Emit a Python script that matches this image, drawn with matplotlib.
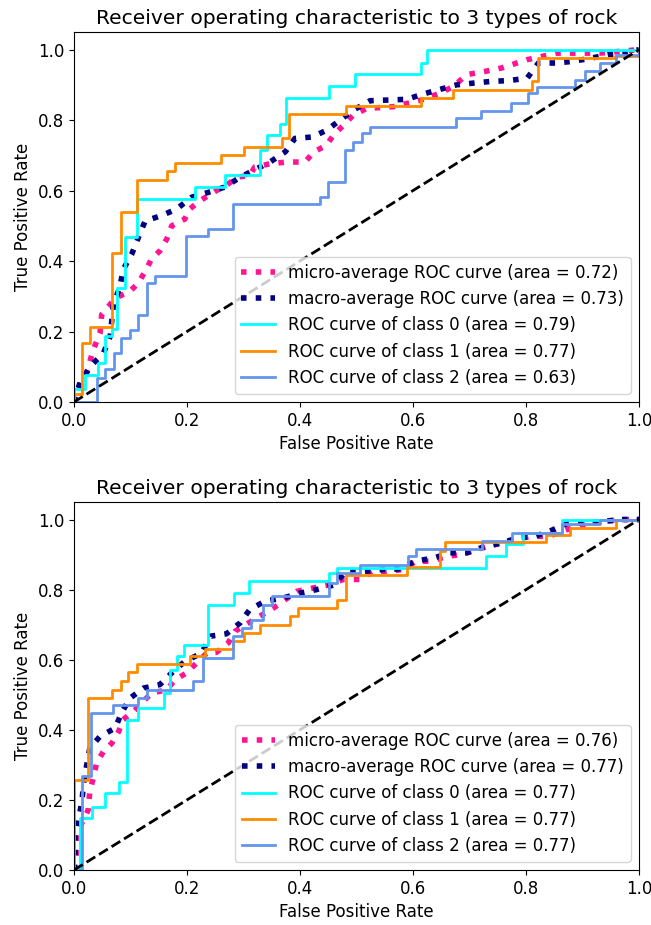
import matplotlib
matplotlib.use("Agg")
import matplotlib.pyplot as plt

title = "Receiver operating characteristic to 3 types of rock"
class_colors = ["aqua", "darkorange", "cornflowerblue"]

# ---------------- top chart data ----------------
top_micro_fpr = [0.0, 0.002, 0.022, 0.034, 0.046, 0.049, 0.061, 0.073, 0.099, 0.114, 0.126, 0.137, 0.152,
                 0.164, 0.173, 0.196, 0.205, 0.223, 0.252, 0.270, 0.288, 0.311, 0.320, 0.347, 0.376, 0.409,
                 0.424, 0.447, 0.459, 0.483, 0.494, 0.518, 0.565, 0.615, 0.647, 0.671, 0.695, 0.727, 0.757,
                 0.801, 0.854, 0.930, 1.0]
top_micro_tpr = [0.0, 0.019, 0.081, 0.148, 0.195, 0.248, 0.271, 0.295, 0.314, 0.338, 0.371, 0.405, 0.429,
                 0.462, 0.500, 0.519, 0.548, 0.571, 0.600, 0.615, 0.638, 0.643, 0.667, 0.676, 0.681, 0.681,
                 0.709, 0.729, 0.757, 0.795, 0.814, 0.833, 0.838, 0.857, 0.876, 0.895, 0.929, 0.938, 0.948,
                 0.971, 0.990, 0.990, 1.0]
top_macro_fpr = [0.0, 0.011, 0.031, 0.052, 0.064, 0.070, 0.081, 0.087, 0.102, 0.114, 0.126, 0.155, 0.182,
                 0.208, 0.238, 0.267, 0.294, 0.320, 0.347, 0.374, 0.391, 0.421, 0.447, 0.471, 0.495, 0.524,
                 0.557, 0.589, 0.618, 0.645, 0.677, 0.707, 0.740, 0.769, 0.802, 0.822, 0.854, 0.884, 0.916,
                 0.946, 0.975, 1.0]
top_macro_tpr = [0.0, 0.057, 0.105, 0.138, 0.186, 0.281, 0.324, 0.376, 0.419, 0.467, 0.514, 0.529, 0.548,
                 0.581, 0.595, 0.610, 0.638, 0.659, 0.681, 0.710, 0.748, 0.752, 0.771, 0.800, 0.829, 0.855,
                 0.857, 0.859, 0.874, 0.886, 0.900, 0.905, 0.910, 0.912, 0.919, 0.962, 0.962, 0.967, 0.976,
                 0.986, 0.990, 1.0]
top_c0_fpr = [0.0, 0.0, 0.0195, 0.043, 0.055, 0.068, 0.0755, 0.090, 0.112, 0.214, 0.268, 0.329, 0.341,
              0.365, 0.375, 0.452, 0.497, 0.615, 0.624, 1.0]
top_c0_tpr = [0.0, 0.038, 0.076, 0.110, 0.186, 0.208, 0.324, 0.467, 0.576, 0.611, 0.645, 0.714, 0.757,
              0.790, 0.862, 0.897, 0.931, 0.962, 1.0, 1.0]
top_c1_fpr = [0.0, 0.0, 0.014, 0.028, 0.068, 0.083, 0.111, 0.165, 0.179, 0.260, 0.301, 0.369, 0.381,
              0.481, 0.615, 0.671, 0.810, 0.822, 0.957, 1.0]
top_c1_tpr = [0.0, 0.024, 0.167, 0.214, 0.424, 0.538, 0.630, 0.655, 0.678, 0.702, 0.724, 0.748, 0.816,
              0.840, 0.864, 0.886, 0.910, 0.976, 0.981, 1.0]
top_c2_fpr = [0.0, 0.041, 0.055, 0.070, 0.084, 0.099, 0.114, 0.129, 0.143, 0.198, 0.238, 0.281, 0.435,
              0.450, 0.480, 0.494, 0.509, 0.524, 0.676, 0.721, 0.774, 0.804, 0.819, 0.887, 0.904, 0.931,
              0.960, 1.0]
top_c2_tpr = [0.0, 0.067, 0.095, 0.138, 0.181, 0.205, 0.248, 0.338, 0.357, 0.471, 0.490, 0.562, 0.581,
              0.624, 0.714, 0.738, 0.762, 0.781, 0.805, 0.826, 0.848, 0.876, 0.895, 0.914, 0.938, 0.962,
              0.986, 1.0]
top_areas = [0.72, 0.73, 0.79, 0.77, 0.63]   # micro, macro, class 0, class 1, class 2

# ---------------- bottom chart data ----------------
bot_micro_fpr = [0.0, 0.002, 0.005, 0.008, 0.025, 0.028, 0.034, 0.040, 0.052, 0.067, 0.079, 0.087, 0.105,
                 0.120, 0.137, 0.164, 0.179, 0.199, 0.214, 0.235, 0.252, 0.273, 0.285, 0.323, 0.344, 0.362,
                 0.394, 0.424, 0.447, 0.477, 0.506, 0.530, 0.553, 0.580, 0.606, 0.633, 0.660, 0.686, 0.733,
                 0.757, 0.780, 0.810, 0.840, 0.872, 0.893, 0.919, 0.943, 0.973, 1.0]
bot_micro_tpr = [0.0, 0.010, 0.052, 0.114, 0.171, 0.224, 0.262, 0.305, 0.338, 0.362, 0.395, 0.429, 0.452,
                 0.476, 0.505, 0.514, 0.543, 0.562, 0.586, 0.619, 0.621, 0.648, 0.681, 0.719, 0.738, 0.757,
                 0.795, 0.805, 0.812, 0.829, 0.829, 0.852, 0.852, 0.857, 0.881, 0.881, 0.895, 0.900, 0.924,
                 0.933, 0.943, 0.952, 0.952, 0.971, 0.981, 0.990, 0.996, 1.0, 1.0]
bot_macro_fpr = [0.0, 0.002, 0.002, 0.014, 0.017, 0.022, 0.028, 0.046, 0.073, 0.084, 0.099, 0.123, 0.152,
                 0.176, 0.196, 0.226, 0.241, 0.270, 0.294, 0.311, 0.338, 0.370, 0.400, 0.429, 0.462, 0.480,
                 0.512, 0.545, 0.575, 0.604, 0.636, 0.666, 0.695, 0.725, 0.757, 0.786, 0.816, 0.845, 0.875,
                 0.907, 0.939, 0.969, 1.0]
bot_macro_tpr = [0.0, 0.038, 0.095, 0.195, 0.248, 0.295, 0.348, 0.381, 0.405, 0.448, 0.490, 0.519, 0.529,
                 0.567, 0.595, 0.619, 0.667, 0.674, 0.705, 0.743, 0.767, 0.776, 0.790, 0.800, 0.814, 0.852,
                 0.852, 0.857, 0.859, 0.881, 0.890, 0.905, 0.905, 0.922, 0.933, 0.948, 0.952, 0.969, 0.990,
                 0.990, 0.995, 1.0, 1.0]
bot_c0_fpr = [0.0, 0.0106, 0.0313, 0.0549, 0.0802, 0.0932, 0.114, 0.159, 0.170, 0.182, 0.194, 0.238, 0.283,
              0.310, 0.452, 0.465, 0.730, 0.765, 0.794, 0.863, 1.0]
bot_c0_tpr = [0.0, 0.148, 0.181, 0.219, 0.252, 0.429, 0.462, 0.505, 0.571, 0.610, 0.643, 0.757, 0.790,
              0.824, 0.848, 0.862, 0.897, 0.929, 0.962, 1.0, 1.0]
bot_c1_fpr = [0.0, 0.0, 0.025, 0.068, 0.083, 0.096, 0.111, 0.205, 0.232, 0.282, 0.300, 0.329, 0.382, 0.397,
              0.465, 0.481, 0.589, 0.647, 0.656, 0.836, 0.878, 0.960, 1.0]
bot_c1_tpr = [0.0, 0.257, 0.490, 0.514, 0.538, 0.564, 0.589, 0.610, 0.630, 0.652, 0.676, 0.700, 0.724,
              0.748, 0.771, 0.843, 0.864, 0.910, 0.935, 0.957, 0.976, 1.0, 1.0]
bot_c2_fpr = [0.0, 0.0136, 0.0295, 0.0696, 0.114, 0.129, 0.211, 0.229, 0.281, 0.297, 0.313, 0.334, 0.350,
              0.452, 0.465, 0.506, 0.592, 0.606, 0.722, 0.775, 0.863, 0.931, 1.0]
bot_c2_tpr = [0.0, 0.267, 0.448, 0.471, 0.490, 0.514, 0.538, 0.605, 0.667, 0.690, 0.714, 0.757, 0.781,
              0.819, 0.848, 0.871, 0.895, 0.917, 0.938, 0.962, 0.986, 1.0, 1.0]
bot_areas = [0.76, 0.77, 0.77, 0.77, 0.77]

FS_TITLE = 14.6
FS_LABEL = 12
FS_TICK = 12
FS_LEG = 12


def draw(ax, micro, macro, classes, areas):
    ax.plot(micro[0], micro[1], color="deeppink", linestyle=":", linewidth=4,
            label="micro-average ROC curve (area = {0:0.2f})".format(areas[0]))
    ax.plot(macro[0], macro[1], color="navy", linestyle=":", linewidth=4,
            label="macro-average ROC curve (area = {0:0.2f})".format(areas[1]))
    for i, (fpr, tpr) in enumerate(classes):
        ax.plot(fpr, tpr, color=class_colors[i], linewidth=2, drawstyle="steps-post",
                label="ROC curve of class {0} (area = {1:0.2f})".format(i, areas[i + 2]))
    ax.plot([0, 1], [0, 1], "k--", linewidth=2)
    ax.set_xlim([0.0, 1.0])
    ax.set_ylim([0.0, 1.05])
    ax.set_xlabel("False Positive Rate", fontsize=FS_LABEL)
    ax.set_ylabel("True Positive Rate", fontsize=FS_LABEL)
    ax.set_title(title, fontsize=FS_TITLE)
    ax.tick_params(labelsize=FS_TICK)
    ax.legend(loc="lower right", fontsize=FS_LEG)


fig = plt.figure(figsize=(6.51, 9.25), dpi=100)
ax1 = fig.add_axes([74 / 651, 1 - 402 / 925, 565 / 651, 370 / 925])
ax2 = fig.add_axes([74 / 651, 1 - 870 / 925, 565 / 651, 368 / 925])

draw(ax1, (top_micro_fpr, top_micro_tpr), (top_macro_fpr, top_macro_tpr),
     [(top_c0_fpr, top_c0_tpr), (top_c1_fpr, top_c1_tpr), (top_c2_fpr, top_c2_tpr)], top_areas)
draw(ax2, (bot_micro_fpr, bot_micro_tpr), (bot_macro_fpr, bot_macro_tpr),
     [(bot_c0_fpr, bot_c0_tpr), (bot_c1_fpr, bot_c1_tpr), (bot_c2_fpr, bot_c2_tpr)], bot_areas)

fig.savefig("out.png", dpi=100)
